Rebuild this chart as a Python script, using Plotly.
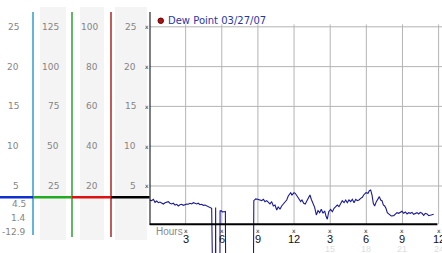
import plotly.graph_objects as go

W, H = 442, 253

# ---------------- data ----------------
hours = [
    0.00, 0.18, 0.32, 0.46, 0.60, 0.73, 0.87, 1.01, 1.15, 1.29, 1.43, 1.56, 1.70, 1.84, 1.98,
    2.12, 2.26, 2.39, 2.53, 2.67, 2.81, 2.95, 3.09, 3.22, 3.36, 3.50, 3.64, 3.78, 3.92, 4.05,
    4.19, 4.33, 4.47, 4.61, 4.75, 4.88, 5.02, 5.16,
    5.30, 5.46, 5.49, 5.52, 5.83, 5.86, 5.95, 6.05, 6.20, 6.30, 6.34, 8.60,
    8.66, 8.82, 8.98, 9.17, 9.31, 9.45, 9.59, 9.73, 9.86, 10.00, 10.14, 10.28, 10.42, 10.56,
    10.69, 10.83, 10.97, 11.11, 11.25, 11.39, 11.52, 11.66, 11.72, 11.83, 12.00, 12.10, 12.27,
    12.41, 12.55, 12.66, 12.80, 12.93, 13.07, 13.22, 13.32, 13.43, 13.57, 13.71, 13.85, 13.99,
    14.13, 14.26, 14.40, 14.54, 14.65, 14.76, 14.88, 15.04, 15.18, 15.32, 15.46, 15.59, 15.73,
    15.87, 16.00, 16.15, 16.29, 16.42, 16.56, 16.70, 16.84, 16.98, 17.12, 17.25, 17.39, 17.53,
    17.67, 17.78, 17.97, 18.14, 18.25, 18.36, 18.47, 18.58, 18.69, 18.83, 18.97, 19.08, 19.19,
    19.30, 19.41, 19.52, 19.63, 19.74, 19.91, 20.07, 20.27, 20.41, 20.55, 20.69, 20.82, 20.96,
    21.10, 21.24, 21.38, 21.52, 21.65, 21.79, 21.93, 22.07, 22.21, 22.35, 22.48, 22.62, 22.76,
    22.90, 23.04, 23.18, 23.31, 23.45, 23.59,
]
dew_point = [
    3.24, 3.16, 3.33, 2.95, 3.12, 2.90, 2.99, 2.83, 2.74, 2.90, 2.99, 3.03, 2.83, 2.74, 2.83,
    2.61, 2.70, 2.49, 2.65, 2.70, 2.57, 2.65, 2.74, 2.70, 2.83, 2.74, 2.90, 2.83, 2.74, 2.83,
    2.65, 2.70, 2.57, 2.61, 2.49, 2.40, 2.32, 2.20,
    -12.9, -12.9, 2.30, -12.9, -12.9, 1.86, 1.90, 1.75, 1.77, 1.80, -12.9, -12.9,
    3.15, 3.37, 3.33, 3.24, 3.16, 3.33, 3.03, 3.16, 2.90, 2.74, 3.03, 2.49, 2.61, 1.98,
    2.40, 2.07, 2.49, 2.74, 3.03, 3.24, 3.74, 4.08, 4.16, 3.87, 4.16, 4.08, 3.74,
    3.33, 3.03, 3.24, 2.83, 2.74, 3.16, 3.45, 3.87, 3.33, 2.74, 2.32, 1.36, 1.90,
    1.65, 2.07, 1.57, 1.86, 1.23, 0.82, 1.77, 2.07, 1.77, 2.20, 2.40, 2.61, 2.40,
    2.83, 3.16, 2.90, 3.24, 2.90, 3.24, 3.03, 3.33, 2.90, 3.33, 3.16, 3.24, 3.45,
    3.58, 3.87, 4.16, 4.08, 4.41, 4.50, 3.87, 2.83, 2.49, 3.03, 3.45, 3.66, 3.24,
    3.16, 2.61, 2.49, 2.20, 1.65, 1.44, 1.23, 1.27, 1.49, 1.65, 1.57, 1.69, 1.82,
    1.57, 1.73, 1.49, 1.65, 1.57, 1.69, 1.44, 1.57, 1.65, 1.49, 1.69, 1.57, 1.32,
    1.57, 1.49, 1.27, 1.32, 1.40, 1.44,
]

series_name = "Dew Point 03/27/07"
grid_values = [25, 20, 15, 10, 5]
col1_labels = ["25", "20", "15", "10", "5"]
col2_labels = ["125", "100", "75", "50", "25"]
col3_labels = ["100", "80", "60", "40", "20"]
col4_labels = ["25", "20", "15", "10", "5"]
stat_labels = ["4.5", "1.4", "-12.9"]
marker_value = 3.6
hour_ticks = [3, 6, 9, 12, 15, 18, 21, 24]
hour_labels = ["3", "6", "9", "12", "3", "6", "9", "12"]
hour24_labels = ["", "", "", "", "15", "18", "21", "24"]

# ---------------- helpers (pixel -> paper) ----------------
def px(x):
    return x / W

def py(y):
    return 1 - y / H

X0 = 149.5            # pixel of hour 0
PPH = 12.046          # pixels per hour
Y_TOP, Y_BOT = 28.37, -3.42

GREY = "#858585"
GRID = "#b4b4b4"

fig = go.Figure()
fig.add_trace(go.Scatter(
    x=hours, y=dew_point, mode="lines",
    line=dict(color="#1a1a94", width=1.1), hoverinfo="skip", showlegend=False,
))

shapes = []
annotations = []

# left panel grey columns
for x0, x1 in [(40, 66), (80, 104), (115, 147)]:
    shapes.append(dict(type="rect", xref="paper", yref="paper",
                       x0=px(x0), x1=px(x1), y0=py(240), y1=py(7),
                       fillcolor="#f4f4f4", line=dict(width=0), layer="below"))
# coloured vertical separators
for x, col, yb in [(33, "#2f9ccc", 235), (72, "#2ea02e", 237), (111, "#b02424", 237)]:
    shapes.append(dict(type="line", xref="paper", yref="paper",
                       x0=px(x), x1=px(x), y0=py(yb), y1=py(12),
                       line=dict(color=col, width=1.5)))
# coloured horizontal marker line
for xa, xb, col in [(0, 33, "#1030d0"), (33, 72, "#22aa22"), (72, 111, "#dd1111"), (111, X0, "#000000")]:
    shapes.append(dict(type="line", xref="paper", yref="y",
                       x0=px(xa), x1=px(xb), y0=marker_value, y1=marker_value,
                       line=dict(color=col, width=2.5)))

# grid
for v in grid_values:
    shapes.append(dict(type="line", xref="x", yref="y", x0=0, x1=24.3, y0=v, y1=v,
                       line=dict(color=GRID, width=1), layer="below"))
for h in hour_ticks:
    shapes.append(dict(type="line", xref="x", yref="y", x0=h, x1=h, y0=0.2, y1=25.3,
                       line=dict(color=GRID, width=1), layer="below"))
# axes
shapes.append(dict(type="line", xref="x", yref="paper", x0=0, x1=0, y0=py(225), y1=py(12),
                   line=dict(color="black", width=2)))
shapes.append(dict(type="line", xref="x", yref="y", x0=0, x1=23.9, y0=0.2, y1=0.2,
                   line=dict(color="black", width=2)))

# legend marker
shapes.append(dict(type="circle", xref="paper", yref="paper",
                   x0=px(158), x1=px(163.5), y0=py(23.5), y1=py(18),
                   fillcolor="#b01010", line=dict(color="#600000", width=1)))
annotations.append(dict(text=series_name, xref="paper", yref="paper", x=px(165.5), y=py(20.5),
                        xanchor="left", yanchor="middle", showarrow=False,
                        font=dict(family="DejaVu Sans", size=10, color="#2a36a8")))

lab_font = dict(family="DejaVu Sans", size=9, color=GREY)
for labels, xr in [(col1_labels, 20.5), (col2_labels, 60.5), (col3_labels, 99.5), (col4_labels, 137.5)]:
    for v, t in zip(grid_values, labels):
        annotations.append(dict(text=t, xref="paper", yref="y", x=px(xr), y=v,
                                xanchor="right", yanchor="middle", showarrow=False, font=lab_font))
for t, yy in zip(stat_labels, [204, 218, 232]):
    annotations.append(dict(text=t, xref="paper", yref="paper", x=px(27.5), y=py(yy),
                            xanchor="right", yanchor="middle", showarrow=False, font=lab_font))

tick_font = dict(family="DejaVu Sans", size=6, color="#222222")
for v in grid_values:
    annotations.append(dict(text="x", xref="paper", yref="y", x=px(147), y=v,
                            xanchor="center", yanchor="middle", showarrow=False, font=tick_font))
for h, t, t24 in zip(hour_ticks, hour_labels, hour24_labels):
    annotations.append(dict(text="x", xref="x", yref="paper", x=h, y=py(230),
                            xanchor="center", yanchor="middle", showarrow=False, font=tick_font))
    annotations.append(dict(text=t, xref="x", yref="paper", x=h, y=py(238.5),
                            xanchor="center", yanchor="middle", showarrow=False,
                            font=dict(family="Liberation Sans", size=11, color="#111111")))
    if t24:
        annotations.append(dict(text=t24, xref="x", yref="paper", x=h, y=py(249),
                                xanchor="center", yanchor="middle", showarrow=False,
                                font=dict(family="Liberation Sans", size=9, color="#dedede")))
annotations.append(dict(text="Hours", xref="paper", yref="paper", x=px(153.5), y=py(231.5),
                        xanchor="left", yanchor="middle", showarrow=False,
                        font=dict(family="Liberation Sans", size=10, color="#8a8a8a")))

fig.update_layout(
    width=W, height=H,
    margin=dict(l=0, r=0, t=0, b=0),
    paper_bgcolor="white", plot_bgcolor="rgba(0,0,0,0)",
    xaxis=dict(domain=[X0 / W, 1], range=[0, (W - X0) / PPH], visible=False, fixedrange=True),
    yaxis=dict(domain=[0, 1], range=[Y_BOT, Y_TOP], visible=False, fixedrange=True),
    shapes=shapes, annotations=annotations, showlegend=False,
)

fig.write_html("out.html", config={"displayModeBar": False})
